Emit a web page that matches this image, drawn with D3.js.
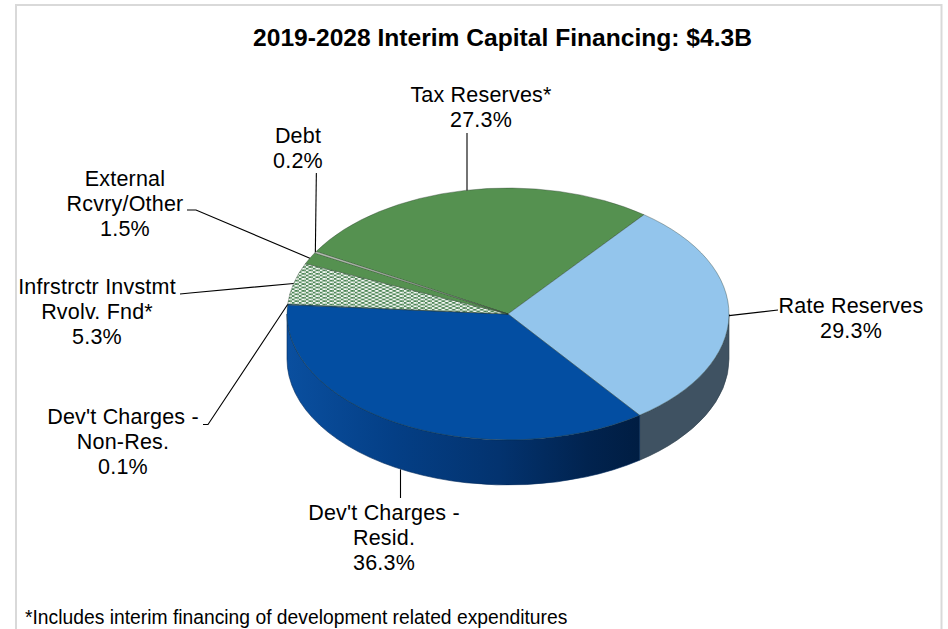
<!DOCTYPE html>
<html><head><meta charset="utf-8">
<script src="https://cdn.jsdelivr.net/npm/d3@7"></script>
<style>html,body{margin:0;background:#fff}svg{display:block}text{font-family:"Liberation Sans",Arial,sans-serif;fill:#000}</style>
</head><body><svg id="c" width="948" height="629"></svg>
<script>
const categories = ["Tax Reserves*","Rate Reserves","Dev't Charges - Resid.","Dev't Charges - Non-Res.","Infrstrctr Invstmt Rvolv. Fnd*","External Rcvry/Other","Debt"];
const shares = [27.3,29.3,36.3,0.1,5.3,1.5,0.2];
const labelLines = [["Tax Reserves*","27.3%"],["Rate Reserves","29.3%"],["Dev't Charges -","Resid.","36.3%"],["Dev't Charges -","Non-Res.","0.1%"],["Infrstrctr Invstmt","Rvolv. Fnd*","5.3%"],["External","Rcvry/Other","1.5%"],["Debt","0.2%"]];
const title = "2019-2028 Interim Capital Financing: $4.3B";
const footnote = "*Includes interim financing of development related expenditures";
const fills = ["#559150","#93c5ec","#034ea2","#034ea2","url(#dots)","#559150","#c3ccbf"];

const cx=508, cy=314, rx=221, ry=126, depth=45;
const start=-60.3*Math.PI/180;
const svg=d3.select("#c");
const defs=svg.append("defs");
const p=defs.append("pattern").attr("id","dots").attr("width",7).attr("height",6).attr("patternUnits","userSpaceOnUse");
p.append("rect").attr("width",7).attr("height",6).attr("fill","#86ad88");
[[1.75,1.5],[5.25,4.5]].forEach(([x,y])=>p.append("ellipse").attr("cx",x).attr("cy",y).attr("rx",1.8).attr("ry",1.35).attr("fill","#fff"));
[[5.25,1.5],[1.75,4.5]].forEach(([x,y])=>p.append("ellipse").attr("cx",x).attr("cy",y).attr("rx",1.4).attr("ry",1.1).attr("fill","#2f6f3e"));
const g=defs.append("linearGradient").attr("id","side").attr("gradientUnits","userSpaceOnUse").attr("x1",cx-rx).attr("x2",640).attr("y1",0).attr("y2",0);
[[0,"#0a4f9f"],[.3,"#043f86"],[.6,"#03336f"],[.85,"#01234f"],[1,"#001d42"]].forEach(([o,c])=>g.append("stop").attr("offset",o).attr("stop-color",c));

// Frame
svg.append("path").attr("d","M16,640V5H941.5V640").attr("fill","none").attr("stroke","#d9d9d9").attr("stroke-width",2);

const slices=d3.pie().sort(null).startAngle(start).endAngle(start+2*Math.PI)(shares);
const pt=(a,dy=0)=>[cx+rx*Math.sin(a),cy-ry*Math.cos(a)+dy];
function wall(a0,a1){
  a0=Math.max(a0,Math.PI/2);a1=Math.min(a1,1.5*Math.PI);
  if(a1<=a0) return null;
  const [x0,y0]=pt(a0),[x1,y1]=pt(a1);
  return `M${x0},${y0}A${rx},${ry} 0 0 1 ${x1},${y1}L${x1},${y1+depth}A${rx},${ry} 0 0 0 ${x0},${y0+depth}Z`;
}
const sideFills=[null,"#3f5262","url(#side)",null,null,null,null];
svg.append("g").selectAll("path").data(slices.filter((d,i)=>sideFills[i])).join("path")
  .attr("d",d=>wall(d.startAngle,d.endAngle)).attr("fill",d=>sideFills[d.index])
  .attr("stroke",d=>d.index==1?"#33434f":"#00285a").attr("stroke-width",.6);
const arc=d3.arc().innerRadius(0).outerRadius(rx);
svg.append("g").attr("transform",`translate(${cx},${cy}) scale(1,${ry/rx})`)
  .selectAll("path").data(slices).join("path").attr("d",arc).attr("fill",(d,i)=>fills[i])
  .attr("stroke","#26382a").attr("stroke-opacity",.6).attr("stroke-width",.6).attr("vector-effect","non-scaling-stroke");

const layout=[
 {lx:481,ly:102,path:a=>[[467,133],[467,a[1]]]},
 {lx:851,ly:313,path:a=>[[778,310],a]},
 {lx:384,ly:520,path:a=>[[400.5,498],[400.5,a[1]]],dy:depth},
 {lx:123,ly:424,path:a=>[[203,424.5],[208,424.5],a]},
 {lx:97,ly:294,path:a=>[[180,294],[190,293],a]},
 {lx:125,ly:186,path:a=>[[187,210],[196,210],a]},
 {lx:298,ly:143,path:a=>[[a[0]+1,173],a]}
];
const lh=25;
slices.forEach((d,i)=>{
  const mid=(d.startAngle+d.endAngle)/2,L=layout[i];
  const a=pt(mid,L.dy||0);
  svg.append("path").attr("d",d3.line()(L.path(a))).attr("fill","none").attr("stroke","#000").attr("stroke-width",1.1);
  const t=svg.append("text").attr("text-anchor","middle").attr("font-size",21.5).attr("letter-spacing",.2);
  labelLines[i].forEach((s,k)=>t.append("tspan").attr("x",L.lx).attr("y",L.ly+k*lh).text(s));
});
svg.append("text").attr("x",502.5).attr("y",45.5).attr("text-anchor","middle").attr("font-size",24.6).attr("font-weight",700).text(title);
svg.append("text").attr("x",25).attr("y",624).attr("font-size",19.3).text(footnote);
</script></body></html>
